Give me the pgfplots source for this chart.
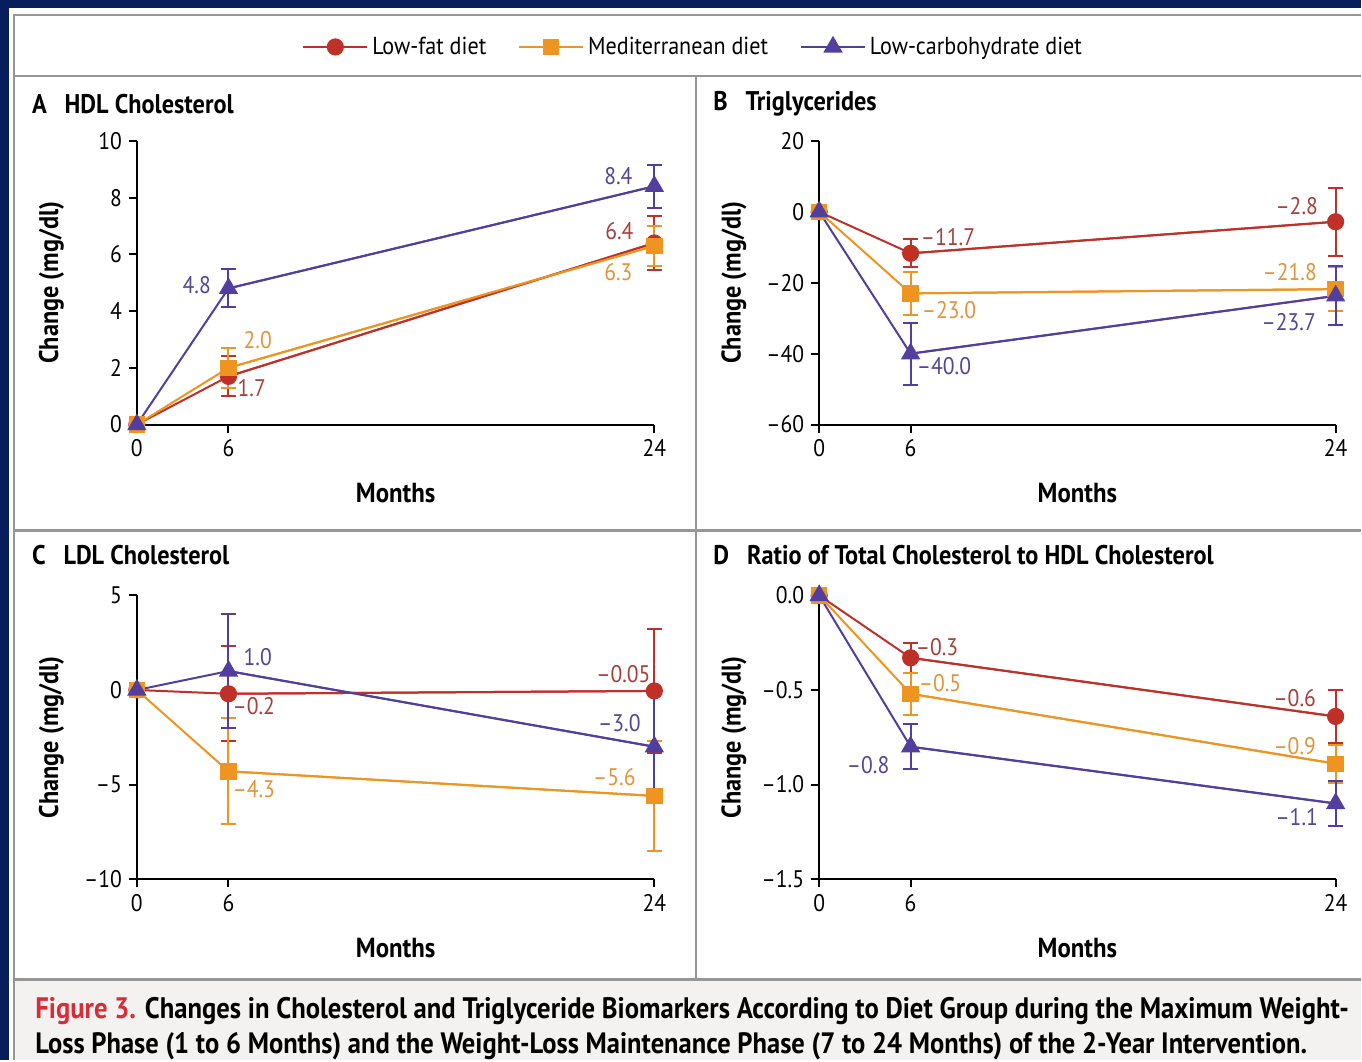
\documentclass[border=0pt]{standalone}
\usepackage{fontspec}
\setmainfont{PT Sans}[FakeStretch=0.9]
\usepackage{graphicx}
\usepackage{pgfplots}
\pgfplotsset{compat=1.18}

\definecolor{navy}{RGB}{8,30,92}
\definecolor{lf}{RGB}{190,48,40}
\definecolor{med}{RGB}{238,148,32}
\definecolor{lc}{RGB}{82,62,158}
\definecolor{lftxt}{RGB}{165,65,58}
\definecolor{medtxt}{RGB}{226,148,60}
\definecolor{lctxt}{RGB}{84,70,150}
\definecolor{capbg}{RGB}{243,242,240}
\definecolor{framegray}{RGB}{150,150,150}
\definecolor{figred}{RGB}{215,45,55}

\pgfplotsset{
  panel/.style={
    scale only axis, height=142pt,
    xmin=0, xmax=24,
    x coord trafo/.code={\pgfmathparse{(##1<6.01)*(##1*0.708333)+(##1>6.01)*(4.25+(##1-6)*1.0972222)}},
    axis x line=bottom, axis y line=left,
    axis line style={-, line width=1pt, black},
    tick style={black, line width=1pt},
    tick align=outside, major tick length=4pt,
    xtick={0,6,24}, xticklabels={0,6,24},
    /pgf/number format/assume math mode=true,
    ticklabel style={font=\fontsize{12}{12}\selectfont},
    xlabel={Months},
    xlabel style={font=\bfseries\fontsize{13.8}{14}\selectfont, at={(axis description cs:0.5,-0.243)}, anchor=center},
    ylabel={Change (mg/dl)},
    ylabel style={font=\bfseries\fontsize{13.5}{14}\selectfont, at={(axis description cs:-0.165,0.5)}, anchor=center},
    clip=false,
  },
  lfs/.style={lf, line width=1pt, mark=*, mark size=3.8pt, mark options={solid, fill=lf}},
  meds/.style={med, line width=1pt, mark=square*, mark size=3.6pt, mark options={solid, fill=med}},
  lcs/.style={lc, line width=1pt, mark=triangle*, mark size=4.6pt, mark options={solid, fill=lc}},
  ebars/.style={line width=1pt, forget plot,
    error bars/.cd, y dir=both, y explicit, error mark=-,
    error bar style={line width=1pt},
    error mark options={rotate=90, mark size=3.6pt, line width=1pt}},
}

\begin{document}
\begin{tikzpicture}
% ---------- background and frame ----------
\begin{scope}[x=0.5pt,y=-0.5pt]
\fill[navy] (0,0) rectangle (1362,1061);
\fill[white] (9,8) rectangle (1362,1061);
\fill[capbg] (15,981) rectangle (1362,1061);
\draw[framegray, line width=1.4pt] (14,1061) -- (14,15) -- (1362,15);
\draw[framegray, line width=1.4pt] (14,76) -- (1362,76);
\draw[framegray, line width=1.4pt] (14,531) -- (1362,531);
\draw[framegray, line width=1.4pt] (14,980.5) -- (1362,980.5);
\draw[framegray, line width=1.2pt] (697,76) -- (697,980);
\end{scope}

% ---------- Panel A ----------
\begin{axis}[panel, at={(68.5pt,-212.5pt)}, anchor=south west, width=259pt,
  ymin=0, ymax=10, ytick={0,2,4,6,8,10},
  legend style={at={(axis description cs:1.077,1.331)}, anchor=center, draw=none, fill=none,
    legend columns=3, font=\fontsize{12.3}{13}\selectfont,
    /tikz/every even column/.append style={column sep=14pt}},
  legend image code/.code={\draw[mark repeat=2,mark phase=2,#1] plot coordinates {(0pt,0pt)(16pt,0pt)(32pt,0pt)};}
]
\addplot[lf, ebars] coordinates {(6,1.7) +- (0,0.7) (24,6.4) +- (0,0.95)};
\addplot[med, ebars] coordinates {(6,2.0) +- (0,0.7) (24,6.3) +- (0,0.7)};
\addplot[lc, ebars] coordinates {(6,4.8) +- (0,0.67) (24,8.4) +- (0,0.75)};
\addplot[lfs] coordinates {(0,0) (6,1.7) (24,6.4)};
\addplot[meds] coordinates {(0,0) (6,2.0) (24,6.3)};
\addplot[lcs] coordinates {(0,0) (6,4.8) (24,8.4)};
\legend{Low-fat diet, Mediterranean diet, Low-carbohydrate diet}
\end{axis}

% ---------- Panel B ----------
\begin{axis}[panel, at={(410pt,-212.5pt)}, anchor=south west, width=258.5pt,
  ymin=-60, ymax=20, ytick={-60,-40,-20,0,20}, yticklabels={--60,--40,--20,0,20}]
\addplot[lf, ebars] coordinates {(6,-11.7) +- (0,4.0) (24,-2.8) +- (0,9.6)};
\addplot[med, ebars] coordinates {(6,-23.0) +- (0,6.0) (24,-21.8) +- (0,6.3)};
\addplot[lc, ebars] coordinates {(6,-40.0) +- (0,8.7) (24,-23.7) +- (0,8.3)};
\addplot[lfs] coordinates {(0,0) (6,-11.7) (24,-2.8)};
\addplot[meds] coordinates {(0,0) (6,-23.0) (24,-21.8)};
\addplot[lcs] coordinates {(0,0) (6,-40.0) (24,-23.7)};
\end{axis}

% ---------- Panel C ----------
\begin{axis}[panel, at={(68.5pt,-440pt)}, anchor=south west, width=259pt,
  ymin=-10, ymax=5, ytick={-10,-5,0,5}, yticklabels={--10,--5,0,5}]
\addplot[lf, ebars] coordinates {(6,-0.2) +- (0,2.5) (24,-0.05) +- (0,3.3)};
\addplot[med, ebars] coordinates {(6,-4.3) +- (0,2.8) (24,-5.6) +- (0,2.9)};
\addplot[lc, ebars] coordinates {(6,1.0) +- (0,3.0) (24,-3.0) +- (0,2.8)};
\addplot[lfs] coordinates {(0,0) (6,-0.2) (24,-0.05)};
\addplot[meds] coordinates {(0,0) (6,-4.3) (24,-5.6)};
\addplot[lcs] coordinates {(0,0) (6,1.0) (24,-3.0)};
\end{axis}

% ---------- Panel D ----------
\begin{axis}[panel, at={(410pt,-440pt)}, anchor=south west, width=258.5pt,
  ymin=-1.5, ymax=0, ytick={-1.5,-1,-0.5,0}, yticklabels={--1.5,--1.0,--0.5,0.0}]
\addplot[lf, ebars] coordinates {(6,-0.33) +- (0,0.08) (24,-0.64) +- (0,0.14)};
\addplot[med, ebars] coordinates {(6,-0.52) +- (0,0.11) (24,-0.89) +- (0,0.10)};
\addplot[lc, ebars] coordinates {(6,-0.80) +- (0,0.12) (24,-1.10) +- (0,0.12)};
\addplot[lfs] coordinates {(0,0) (6,-0.33) (24,-0.64)};
\addplot[meds] coordinates {(0,0) (6,-0.52) (24,-0.89)};
\addplot[lcs] coordinates {(0,0) (6,-0.80) (24,-1.10)};
\end{axis}

% ---------- texts ----------
\begin{scope}[x=0.5pt,y=-0.5pt]
\tikzset{ttl/.style={anchor=west, font=\bfseries\fontsize{13.5}{14}\selectfont},
         dl/.style={font=\fontsize{12}{12}\selectfont, inner sep=0pt}}
\node[ttl] at (25,104) {A\hspace{9pt}HDL Cholesterol};
\node[ttl] at (707,104) {B\hspace{9pt}Triglycerides};
\node[ttl] at (25,556) {C\hspace{9pt}LDL Cholesterol};
\node[ttl] at (707,556) {D\hspace{9pt}Ratio of Total Cholesterol to HDL Cholesterol};
% A
\node[dl, text=lctxt] at (619,176) {8.4};
\node[dl, text=lftxt] at (620,231) {6.4};
\node[dl, text=medtxt] at (619,272) {6.3};
\node[dl, text=lctxt] at (197,285) {4.8};
\node[dl, text=medtxt] at (258,340) {2.0};
\node[dl, text=lftxt] at (252,388) {1.7};
% B
\node[dl, text=lftxt] at (949,237) {--11.7};
\node[dl, text=lftxt] at (1298,206) {--2.8};
\node[dl, text=medtxt] at (1291,272) {--21.8};
\node[dl, text=medtxt] at (950,310) {--23.0};
\node[dl, text=lctxt] at (945,366) {--40.0};
\node[dl, text=lctxt] at (1290,322) {--23.7};
% C
\node[dl, text=lctxt] at (258,658) {1.0};
\node[dl, text=lftxt] at (254,707) {--0.2};
\node[dl, text=medtxt] at (254,790) {--4.3};
\node[dl, text=lftxt] at (624,675) {--0.05};
\node[dl, text=lctxt] at (620,724) {--3.0};
\node[dl, text=medtxt] at (615,778) {--5.6};
% D
\node[dl, text=lftxt] at (938,648) {--0.3};
\node[dl, text=medtxt] at (941,684) {--0.5};
\node[dl, text=lctxt] at (869,766) {--0.8};
\node[dl, text=lftxt] at (1296,699) {--0.6};
\node[dl, text=medtxt] at (1296,747) {--0.9};
\node[dl, text=lctxt] at (1298,818) {--1.1};
% caption
\node[anchor=west, inner sep=0pt] at (35,1012) {\resizebox{657.5pt}{!}{\bfseries\fontsize{13}{15}\selectfont{\color{figred}Figure 3.} Changes in Cholesterol and Triglyceride Biomarkers According to Diet Group during the Maximum Weight-}};
\node[anchor=west, inner sep=0pt] at (35,1047) {\resizebox{636.5pt}{!}{\bfseries\fontsize{13}{15}\selectfont Loss Phase (1 to 6 Months) and the Weight-Loss Maintenance Phase (7 to 24 Months) of the 2-Year Intervention.}};
\end{scope}
\end{tikzpicture}
\end{document}
